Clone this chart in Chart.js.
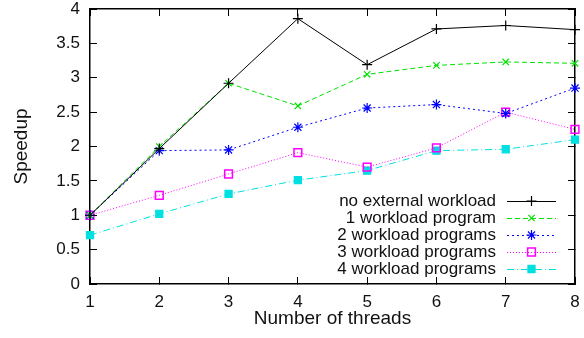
<!DOCTYPE html>
<html>
<head>
<meta charset="utf-8">
<script src="https://cdn.jsdelivr.net/npm/chart.js@4"></script>
<style>
  html, body { margin: 0; padding: 0; background: #fff; }
  #wrap { width: 584px; height: 338px; }
</style>
</head>
<body>
<div id="wrap"><canvas id="myChart"></canvas></div>
<script>
const threads = [1, 2, 3, 4, 5, 6, 7, 8];
const yTicks = [0, 0.5, 1, 1.5, 2, 2.5, 3, 3.5, 4];

const noWorkload = [1.0, 1.97, 2.92, 3.86, 3.19, 3.71, 3.76, 3.70];
const oneWorkload = [1.0, 2.0, 2.92, 2.59, 3.05, 3.18, 3.23, 3.21];
const twoWorkload = [1.0, 1.94, 1.95, 2.28, 2.56, 2.61, 2.48, 2.85];
const threeWorkload = [1.0, 1.29, 1.60, 1.91, 1.70, 1.98, 2.50, 2.25];
const fourWorkload = [0.71, 1.02, 1.31, 1.51, 1.65, 1.94, 1.96, 2.10];

const FONT = 'Liberation Sans, Arial, sans-serif';

function series(label, values, color, dash, style, radius, fill) {
    return {
        label: label,
        data: values.map((v, i) => ({ x: threads[i], y: v })),
        borderColor: color,
        borderWidth: 1,
        borderDash: dash,
        pointStyle: style,
        pointRadius: radius,
        pointBorderColor: color,
        pointBackgroundColor: fill ? color : 'rgba(0,0,0,0)',
        pointBorderWidth: style === 'rect' && !fill ? 1.5 : 1.2,
        clip: false,
        tension: 0
    };
}

// inward tick marks, gnuplot style
const inGrid = () => ({ display: true, drawOnChartArea: false, drawTicks: true, tickLength: -7, color: '#000', lineWidth: 1 });
const frameBorder = () => ({ display: true, color: '#000', width: 1.5 });

// key inside the plot, text right aligned, sample line on the right
const keyPlugin = {
    id: 'gpkey',
    afterDraw(chart) {
        const ctx = chart.ctx;
        const textRight = 496, x0 = 507, x1 = 556, y0 = 201, dy = 17;
        ctx.save();
        ctx.font = '17px ' + FONT;
        ctx.textAlign = 'right';
        ctx.textBaseline = 'middle';
        chart.data.datasets.forEach((ds, i) => {
            const y = y0 + i * dy;
            ctx.fillStyle = '#111';
            ctx.fillText(ds.label, textRight, y);
            ctx.strokeStyle = ds.borderColor;
            ctx.lineWidth = 1;
            ctx.setLineDash(ds.borderDash);
            ctx.beginPath();
            ctx.moveTo(x0, y + 0.5); ctx.lineTo(x1, y + 0.5);
            ctx.stroke();
            ctx.setLineDash([]);
            ctx.fillStyle = ds.pointBackgroundColor;
            ctx.strokeStyle = ds.pointBorderColor;
            ctx.lineWidth = ds.pointBorderWidth;
            Chart.helpers.drawPoint(ctx, {
                pointStyle: ds.pointStyle,
                radius: ds.pointRadius,
                borderWidth: ds.pointBorderWidth
            }, (x0 + x1) / 2, y);
        });
        ctx.restore();
    }
};

const CHART = document.getElementById('myChart');
let lineChart = new Chart(CHART, {
    type: 'line',
    plugins: [keyPlugin],
    data: {
        datasets: [
            series('no external workload', noWorkload, '#000000', [], 'cross', 5, false),
            series('1 workload program', oneWorkload, '#00e000', [5, 3], 'crossRot', 4.5, false),
            series('2 workload programs', twoWorkload, '#0000ff', [2, 3], 'star', 5, false),
            series('3 workload programs', threeWorkload, '#ff00ff', [1, 2], 'rect', 5.5, false),
            series('4 workload programs', fourWorkload, '#00e0e0', [7, 3, 1, 3], 'rect', 5, true)
        ]
    },
    options: {
        animation: false,
        responsive: true,
        maintainAspectRatio: false,
        layout: { padding: { top: 9, right: 9, left: 0, bottom: 0 } },
        plugins: {
            legend: { display: false },
            tooltip: { enabled: false }
        },
        scales: {
            x: {
                type: 'linear',
                position: 'bottom',
                min: 1, max: 8,
                afterBuildTicks: s => { s.ticks = threads.map(v => ({ value: v })); },
                afterFit: s => { s.height = 54; s.paddingLeft = 0; s.paddingRight = 0; },
                grid: inGrid(),
                border: frameBorder(),
                ticks: { color: '#111', font: { family: FONT, size: 17 }, padding: 15, maxRotation: 0 },
                title: { display: true, text: 'Number of threads', color: '#111', font: { family: FONT, size: 19 }, padding: { top: 0, bottom: 8 } }
            },
            xTop: {
                type: 'linear',
                position: 'top',
                min: 1, max: 8,
                afterBuildTicks: s => { s.ticks = threads.map(v => ({ value: v })); },
                afterFit: s => { s.height = 0; s.paddingLeft = 0; s.paddingRight = 0; },
                grid: inGrid(),
                border: frameBorder(),
                ticks: { display: false }
            },
            y: {
                position: 'left',
                min: 0, max: 4,
                afterBuildTicks: s => { s.ticks = yTicks.map(v => ({ value: v })); },
                afterFit: s => { s.width = 90; s.paddingTop = 0; s.paddingBottom = 0; },
                grid: inGrid(),
                border: frameBorder(),
                ticks: { color: '#111', font: { family: FONT, size: 17 }, padding: 17, callback: v => String(v) },
                title: { display: true, text: 'Speedup', color: '#111', font: { family: FONT, size: 19 }, padding: { top: 10, bottom: 0 } }
            },
            yRight: {
                position: 'right',
                min: 0, max: 4,
                afterBuildTicks: s => { s.ticks = yTicks.map(v => ({ value: v })); },
                afterFit: s => { s.width = 0; s.paddingTop = 0; s.paddingBottom = 0; },
                grid: inGrid(),
                border: frameBorder(),
                ticks: { display: false }
            }
        }
    }
});
</script>
</body>
</html>
